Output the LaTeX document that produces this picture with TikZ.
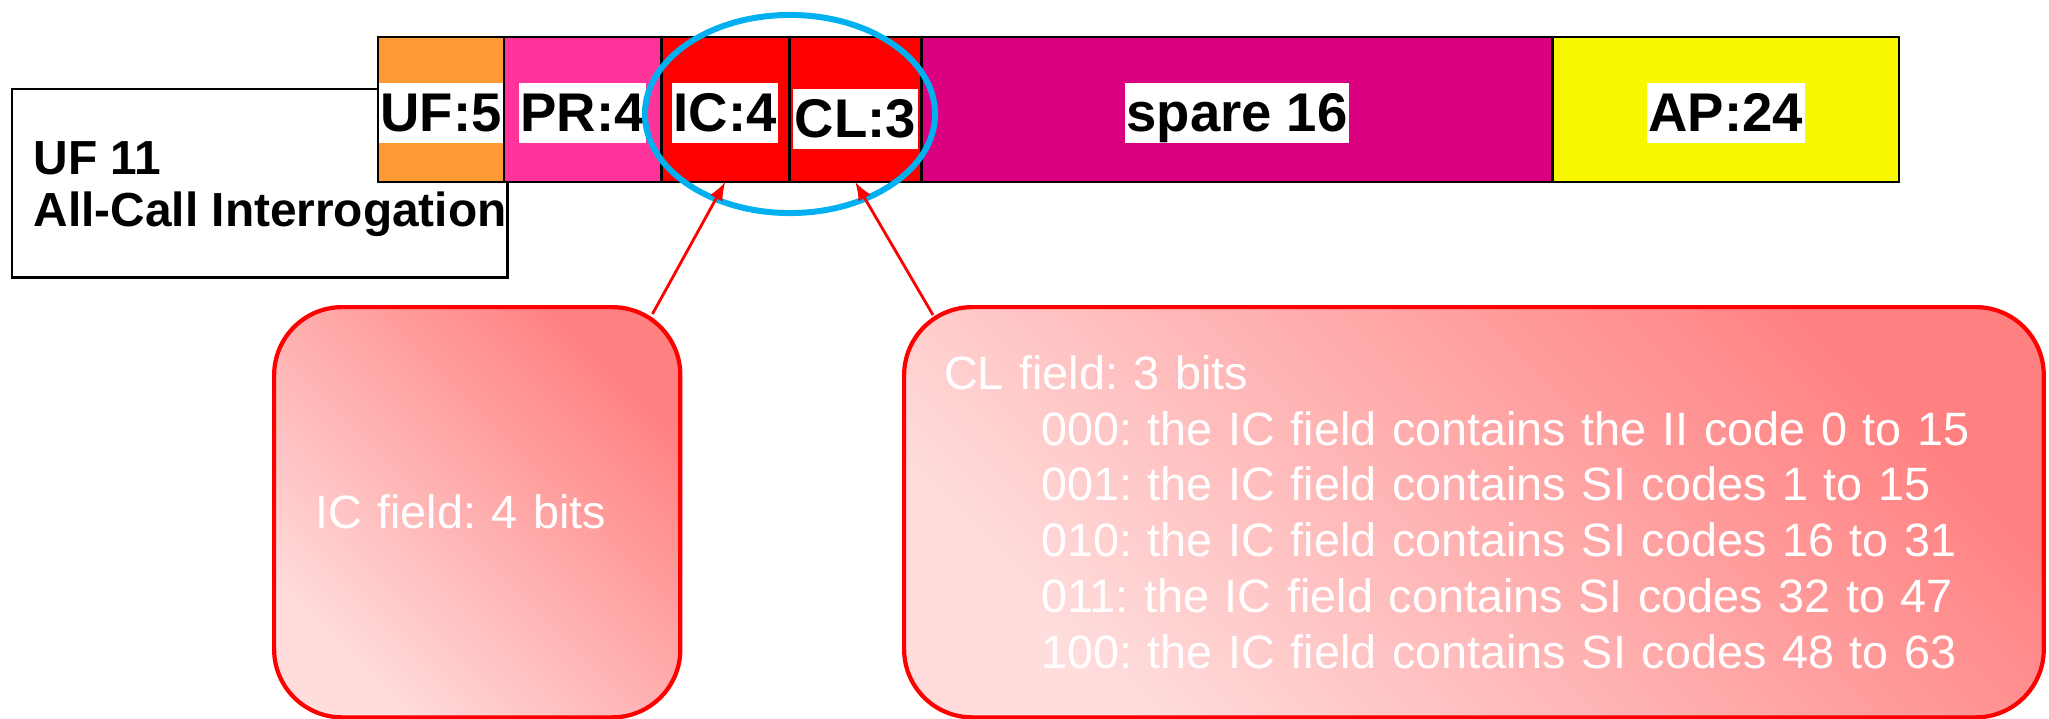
\documentclass[tikz,border=0pt]{standalone}
\usepackage{fontspec}
\setmainfont{Liberation Sans}
\usetikzlibrary{arrows,shapes,positioning,calc}
\definecolor{ufcol}{RGB}{255,153,51}
\definecolor{prcol}{RGB}{255,51,153}
\definecolor{iccol}{RGB}{255,0,0}
\definecolor{sparecol}{RGB}{219,0,127}
\definecolor{apcol}{RGB}{248,248,0}
\definecolor{ringcol}{RGB}{0,176,240}
\definecolor{calldark}{RGB}{255,128,128}
\definecolor{calllight}{RGB}{255,221,221}
\frenchspacing

\begin{document}
\begin{tikzpicture}[x=0.01cm, y=-0.01cm,
    cell/.style={rectangle, draw=black, line width=0.8pt, outer sep=0pt, inner sep=0pt,
                 minimum height=1.45cm},
    tag/.style={fill=white, inner xsep=0.5pt, inner ysep=0pt, text height=0.49cm, text depth=0.11cm,
                font=\bfseries\fontsize{15.5}{18}\selectfont},
    callout/.style={rectangle, rounded corners=0.68cm, draw=red, line width=1.2pt,
                    top color=calldark, bottom color=calllight, shading angle=-45,
                    text=white, align=left, anchor=north west, inner ysep=0pt,
                    font=\fontsize{13.3}{15.9}\selectfont},
    pointer/.style={-latex, red, line width=0.8pt}
]
    \useasboundingbox (0,0) rectangle (2049,718);

    % Message type
    \node[draw, line width=0.85pt, anchor=north west, outer sep=0pt,
          minimum width=4.95cm, minimum height=1.88cm] (ufbox) at (12,89) {};
    \node[anchor=west, align=left, inner sep=0pt,
          font=\bfseries\fontsize{13.6}{14.8}\selectfont] (uftitle) at (33,189) {UF 11\\All-Call Interrogation};

    % Fields
    \node[cell, fill=ufcol, anchor=north west, minimum width=1.26cm] (uf) at (378,37) {};
    \node[cell, fill=prcol, minimum width=1.57cm, right=0pt of uf] (pr) {};
    \node[cell, fill=iccol, minimum width=1.28cm, right=0pt of pr] (ic) {};
    \node[cell, fill=iccol, minimum width=1.32cm, right=0pt of ic] (cl) {};
    \node[cell, fill=sparecol, minimum width=6.31cm, right=0pt of cl] (spare) {};
    \node[cell, fill=apcol, minimum width=3.46cm, right=0pt of spare] (ap) {};

    % Field names
    \node[tag] (uftag) at ($(uf)+(0,3)$) {UF:5};
    \node[tag] (prtag) at ($(pr)+(0,3)$) {PR:4};
    \node[tag] (ictag) at ($(ic)+(0,3)$) {IC:4};
    \node[tag] (cltag) at ($(cl)+(0,9)$) {CL:3};
    \node[tag] (sparetag) at ($(spare)+(0,3)$) {spare 16};
    \node[tag] (aptag) at ($(ap)+(0,3)$) {AP:24};

    % Highlight
    \node[ellipse, draw=ringcol, line width=1.7pt, minimum width=2.9cm, minimum height=1.98cm] (ring) at (790,114) {};

    % Notes
    \node[callout, minimum width=4.06cm, minimum height=4.10cm, text width=3.24cm,
          inner xsep=0.41cm] (iccall) at (272,305) {IC field: 4 bits};
    \node[callout, minimum width=11.39cm, minimum height=4.10cm, text width=10.59cm,
          inner xsep=0.40cm] (clcall) at (902,305) {CL field: 3 bits\\
        \hspace*{0.97cm}000: the IC field contains the II code 0 to 15\\
        \hspace*{0.97cm}001: the IC field contains SI codes 1 to 15\\
        \hspace*{0.97cm}010: the IC field contains SI codes 16 to 31\\
        \hspace*{0.97cm}011: the IC field contains SI codes 32 to 47\\
        \hspace*{0.97cm}100: the IC field contains SI codes 48 to 63};

    % Pointers
    \coordinate (icfoot) at ($(iccall.north east)+(-30,9)$);
    \coordinate (clfoot) at ($(clcall.north west)+(31,10)$);
    \draw[pointer] (icfoot) -- (ic.south);
    \draw[pointer] (clfoot) -- (cl.south);
\end{tikzpicture}
\end{document}
